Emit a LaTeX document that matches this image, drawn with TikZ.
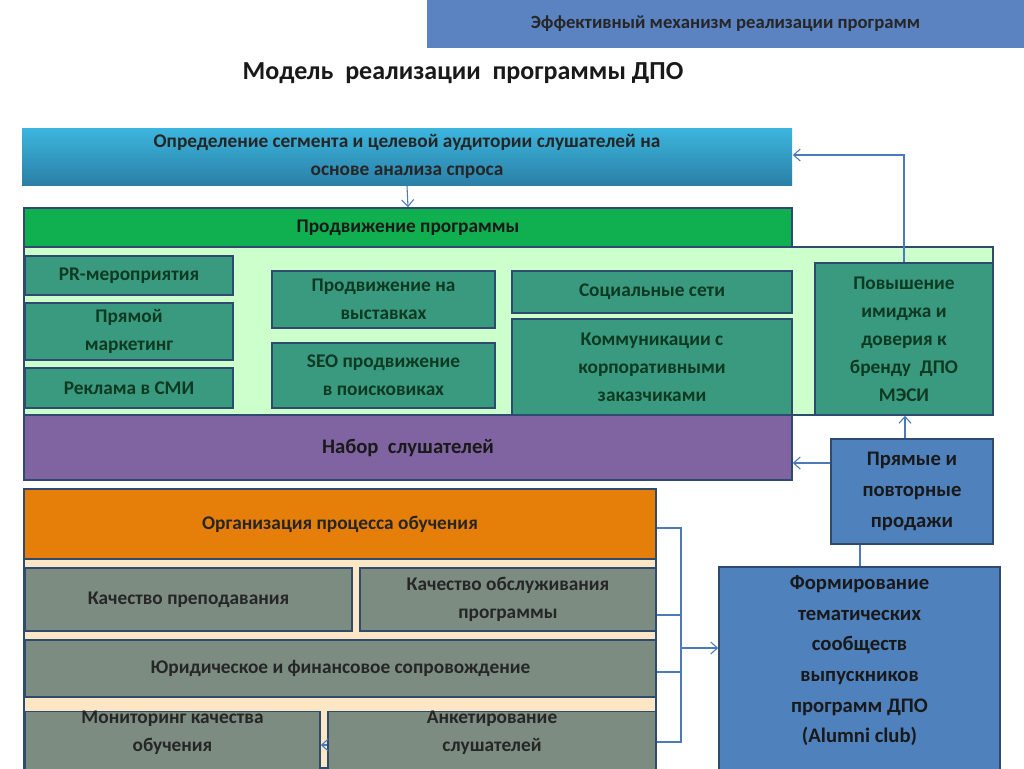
\documentclass[tikz,border=0pt]{standalone}
\usepackage{fontspec}
\setmainfont{Carlito}
\usetikzlibrary{arrows.meta}
\definecolor{hdr}{HTML}{5B83C2}
\definecolor{lnk}{HTML}{4A7AB8}
\definecolor{tealb}{HTML}{3A9A80}
\definecolor{dkg}{HTML}{0E3A22}
\definecolor{bdr}{HTML}{2E4A6E}
\definecolor{lgreen}{HTML}{CCFFCC}
\definecolor{grn}{HTML}{10B050}
\definecolor{purp}{HTML}{8064A2}
\definecolor{oran}{HTML}{E67E0A}
\definecolor{grayb}{HTML}{7C8C80}
\definecolor{beige}{HTML}{FCE6C4}
\definecolor{blueb}{HTML}{4F81BD}
\definecolor{cyanT}{HTML}{3CB6DE}
\definecolor{cyanB}{HTML}{2B7FA6}
\tikzset{
 bx/.style={draw=bdr,line width=1.2pt,font=\bfseries\fontsize{14.5}{21}\selectfont,align=center,inner sep=0pt},
 tl/.style={bx,fill=tealb,text=dkg},
 gr/.style={bx,fill=grayb,text=black!85},
 bl/.style={bx,fill=blueb,text=black!90,font=\bfseries\fontsize{15.5}{23}\selectfont},
 lk/.style={draw=lnk,line width=0.8pt},
 ar/.style={lk,-{Straight Barb[length=5pt,width=9pt]}}
}
\newcommand{\bxat}[5]{\node[#1,minimum width={(#4-#2)*0.75pt},minimum height={(#5-#3)*0.75pt}] at ({(#2+#4)/2},{(#3+#5)/2})}
\begin{document}
\begin{tikzpicture}[x=0.75pt,y=-0.75pt]
\useasboundingbox (0,0) rectangle (1024,768);
\fill[white] (0,0) rectangle (1024,768);
\bxat{bx,fill=hdr,draw=none,font=\bfseries\fontsize{14}{17}\selectfont,text=black!85}{427}{0}{1024}{48} (hdr) {Эффективный механизм реализации программ};
\node[font=\bfseries\fontsize{19.5}{23}\selectfont,text=black!90] (title) at (463,73) {Модель\ \ реализации\ \ программы ДПО};
% top box
\shade[top color=cyanT,bottom color=cyanB] (22,128) rectangle (792,185);
\bxat{bx,draw=none,text=black!85}{22}{128}{792}{185} (seg) {Определение сегмента и целевой аудитории слушателей на\\основе анализа спроса};
% green panel
\fill[lgreen,draw=bdr,line width=1.2pt] (24,247) rectangle (993,415);
\bxat{bx,fill=grn,text=black!90}{24}{208}{792}{247} (prom) {Продвижение программы};
\bxat{tl}{25}{256}{233}{295} (pr) {PR-мероприятия};
\bxat{tl}{25}{303}{233}{360} (dm) {Прямой\\маркетинг};
\bxat{tl}{25}{368}{233}{408} (ad) {Реклама в СМИ};
\bxat{tl}{272}{271}{495}{328} (ex) {Продвижение на\\выставках};
\bxat{tl}{272}{343}{495}{408} (seo) {SEO продвижение\\в поисковиках};
\bxat{tl}{512}{271}{792}{313} (soc) {Социальные сети};
\bxat{tl}{512}{319}{792}{415} (com) {Коммуникации с\\корпоративными\\заказчиками};
\bxat{tl}{815}{263}{993}{415} (img) {Повышение\\имиджа и\\доверия к\\бренду\ \ ДПО\\МЭСИ};
\bxat{bx,fill=purp,text=black!90,font=\bfseries\fontsize{15.5}{20}\selectfont}{24}{415}{792}{480} (nab) {Набор\ \ слушателей};
% bottom panel
\fill[beige,draw=bdr,line width=1.2pt] (24,489) rectangle (656,768);
\bxat{bx,fill=oran,text=black!85}{24}{489}{656}{559} (org) {Организация процесса обучения};
\bxat{gr}{25}{568}{352}{631} (kp) {Качество преподавания};
\bxat{gr}{360}{568}{656}{631} (ko) {Качество обслуживания\\программы};
\bxat{gr}{25}{640}{656}{697} (yur) {Юридическое и финансовое сопровождение};
\bxat{gr}{25}{712}{320}{790} (mon) {Мониторинг качества\\обучения\\[8pt]};
\bxat{gr}{328}{712}{656}{790} (ank) {Анкетирование\\слушателей\\[8pt]};
\bxat{bl}{831}{439}{993}{544} (pp) {Прямые и\\повторные\\продажи};
\bxat{bl}{719}{567}{1000}{790} (alum) {Формирование\\тематических\\сообществ\\выпускников\\программ ДПО\\(Alumni club)\\[6pt]};
\useasboundingbox (0,0) rectangle (1024,768);
% connectors
\draw[ar] (seg.south) -- (prom.north);
\draw[ar] (img.north) |- (seg.east |- 0,155);
\draw[ar] (pp.west |- 0,463) -- (nab.east |- 0,463);
\draw[ar] (pp.north -| 905,0) -- (img.south -| 905,0);
\draw[lk] (alum.north -| 860,0) -- (pp.south -| 860,0);
\coordinate (b1) at (681,528);
\coordinate (b2) at (681,742);
\draw[lk] (org.east |- b1) -- (b1) -- (b2) -- (ank.east |- b2);
\draw[lk] (ko.east |- 0,615) -- (681,615);
\draw[lk] (yur.east |- 0,672) -- (681,672);
\draw[ar] (681,648) -- (alum.west |- 0,648);
\draw[ar] (ank.west |- 0,745) -- (mon.east |- 0,745);
\end{tikzpicture}
\end{document}
